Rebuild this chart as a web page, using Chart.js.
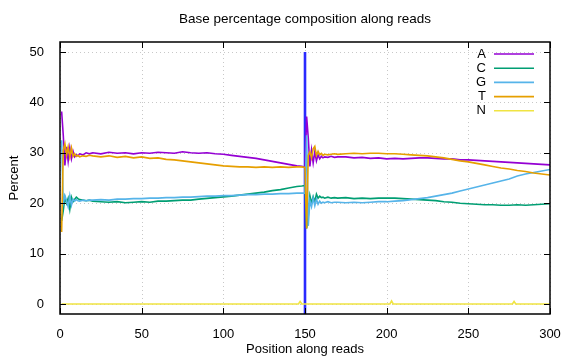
<!DOCTYPE html>
<html>
<head>
<meta charset="utf-8">
<script src="https://cdn.jsdelivr.net/npm/chart.js@4/dist/chart.umd.min.js"></script>
<style>
  html, body { margin: 0; padding: 0; background: #fff; }
  #wrap { width: 576px; height: 360px; }
</style>
</head>
<body>
<div id="wrap"><canvas id="chart" width="576" height="360"></canvas></div>
<script>
// Positions along reads (read 1: 1-150, read 2: 151-300)
const positions = [
    1, 2, 3, 4, 5, 6, 7, 8, 9, 10, 11, 12, 14, 16, 18,
    20, 25, 30, 35, 40, 45, 50, 55, 60, 65, 70, 75, 80, 85, 90, 95, 100,
    105, 110, 115, 120, 125, 130, 135, 140, 145, 148, 150,
    151, 152, 153, 154, 155, 156, 157, 158, 159, 160, 161, 162, 164, 166, 168,
    170, 175, 180, 185, 190, 195, 200, 205, 210, 215, 220, 225, 230, 235,
    240, 245, 250, 255, 260, 265, 270, 275, 280, 285, 290, 295, 300
];

const baseA = [
    38.2, 33.5, 27.5, 31.2, 28.3, 31.0, 28.8, 30.3, 29.2, 29.6, 29.4, 29.8, 29.6, 30.0, 29.8,
    30.0, 29.8, 30.1, 29.9, 30.0, 29.8, 30.0, 29.9, 30.1, 30.0, 29.9, 30.2, 30.0, 29.9, 30.0, 29.8, 29.7,
    29.5, 29.3, 29.1, 28.9, 28.6, 28.3, 28.0, 27.7, 27.4, 27.3, 27.2,
    37.2, 33.0, 27.3, 30.5, 28.0, 30.2, 28.4, 29.6, 28.8, 29.3, 29.0, 29.2, 29.1, 29.3, 29.1,
    29.2, 29.2, 29.0, 29.1, 28.9, 29.0, 28.8, 28.9, 28.8, 28.9, 29.0, 29.0, 28.9, 28.8,
    28.8, 28.6, 28.6, 28.5, 28.4, 28.3, 28.2, 28.1, 28.0, 27.9, 27.8, 27.7, 27.6
];

const baseC = [
    16.5, 18.5, 21.2, 20.0, 21.0, 18.8, 21.2, 20.3, 20.8, 21.2, 20.9, 20.7, 20.6, 20.5, 20.6,
    20.4, 20.3, 20.2, 20.3, 20.1, 20.2, 20.3, 20.2, 20.4, 20.4, 20.5, 20.6, 20.6, 20.8, 20.95, 21.1, 21.25,
    21.4, 21.6, 21.8, 22.0, 22.2, 22.5, 22.7, 23.0, 23.3, 23.4, 23.5,
    15.0, 17.5, 21.5, 20.0, 21.3, 20.3, 21.8, 21.0, 21.4, 21.1, 21.2, 21.0, 21.2, 21.0, 21.1,
    21.0, 21.1, 20.9, 21.0, 20.9, 21.0, 21.0, 21.0, 20.9, 20.8, 20.7, 20.6, 20.5, 20.3,
    20.2, 20.0, 19.9, 19.8, 19.7, 19.7, 19.6, 19.6, 19.7, 19.6, 19.7, 19.8, 19.9
];

const baseG = [
    32.5, 20.0, 21.5, 20.5, 19.3, 21.5, 19.6, 20.8, 20.4, 20.7, 20.5, 20.4, 20.6, 20.5, 20.6,
    20.6, 20.7, 20.6, 20.8, 20.8, 20.9, 20.9, 21.0, 21.0, 21.1, 21.1, 21.2, 21.2, 21.3, 21.4, 21.4, 21.5,
    21.5, 21.6, 21.7, 21.7, 21.8, 21.8, 21.9, 21.9, 22.0, 22.0, 22.0,
    33.5, 15.5, 20.5, 19.3, 21.0, 19.5, 20.8, 19.8, 20.4, 20.0, 20.2, 20.1, 20.3, 20.1, 20.2,
    20.2, 20.1, 20.2, 20.1, 20.2, 20.3, 20.3, 20.4, 20.5, 20.7, 20.9, 21.1, 21.4, 21.7,
    22.0, 22.4, 22.8, 23.2, 23.6, 24.0, 24.4, 24.8, 25.4, 25.8, 26.1, 26.4, 26.7
];

const baseT = [
    14.3, 30.5, 31.8, 29.5, 31.2, 29.2, 31.0, 29.3, 29.8, 29.3, 29.5, 29.2, 29.4, 29.3, 29.5,
    29.4, 29.2, 29.4, 29.1, 29.3, 29.0, 29.2, 28.9, 29.0, 28.7, 28.6, 28.4, 28.2, 28.0, 27.8, 27.6, 27.4,
    27.3, 27.2, 27.2, 27.1, 27.2, 27.1, 27.2, 27.1, 27.2, 27.2, 27.1,
    15.0, 29.5, 30.2, 29.0, 30.8, 31.3, 29.5, 30.3, 29.6, 29.9, 29.5, 29.7, 29.6, 29.7, 29.8,
    29.7, 29.8, 29.9, 29.8, 29.9, 29.9, 29.8, 29.8, 29.7, 29.6, 29.5, 29.4, 29.2, 29.0,
    28.7, 28.4, 28.2, 27.9, 27.6, 27.3, 27.0, 26.8, 26.5, 26.3, 26.0, 25.8, 25.6
];

// N is zero apart from a few small blips
const nPositions = [1, 146, 147, 148, 202, 203, 204, 277, 278, 279, 300];
const baseN = [0, 0, 0.5, 0, 0, 0.6, 0, 0, 0.5, 0, 0];

// read boundary marker
const boundaryX = [150, 150];
const boundaryY = [-2, 50];

const xTicks = [0, 50, 100, 150, 200, 250, 300];
const yTicks = [0, 10, 20, 30, 40, 50];

const FONT = '"Liberation Sans", Arial, sans-serif';

function pts(xs, ys) {
    return xs.map((x, i) => ({ x: x, y: ys[i] }));
}

function series(label, xs, ys, color, order) {
    return {
        label: label,
        data: pts(xs, ys),
        borderColor: color,
        backgroundColor: color,
        borderWidth: 1.6,
        pointRadius: 0,
        tension: 0,
        order: order
    };
}

const datasets = [
    series('A', positions, baseA, '#9400d3', 5),
    series('C', positions, baseC, '#009e73', 4),
    series('G', positions, baseG, '#56b4e9', 3),
    series('T', positions, baseT, '#e69f00', 2),
    series('N', nPositions, baseN, '#f0e442', 1),
    Object.assign(series('', boundaryX, boundaryY, '#2a2aff', 6), { borderWidth: 2.6 })
];

// gnuplot look: dotted grid, framed box, inward mirrored ticks, key with text left of sample
const gnuplotFrame = {
    id: 'gnuplotFrame',
    beforeDatasetsDraw(chart) {
        const { ctx, chartArea: a, scales: { x, y } } = chart;
        ctx.save();
        ctx.strokeStyle = '#c8c8c8';
        ctx.lineWidth = 1;
        ctx.setLineDash([1, 3]);
        xTicks.forEach(v => {
            const px = Math.round(x.getPixelForValue(v)) + 0.5;
            ctx.beginPath(); ctx.moveTo(px, a.top); ctx.lineTo(px, a.bottom); ctx.stroke();
        });
        yTicks.forEach(v => {
            const py = Math.round(y.getPixelForValue(v)) + 0.5;
            ctx.beginPath(); ctx.moveTo(a.left, py); ctx.lineTo(a.right, py); ctx.stroke();
        });
        ctx.restore();
    },
    afterDatasetsDraw(chart) {
        const { ctx, chartArea: a, scales: { x, y } } = chart;
        ctx.save();
        ctx.strokeStyle = '#000';
        ctx.lineWidth = 1;
        const t = 6;
        xTicks.forEach(v => {
            const px = Math.round(x.getPixelForValue(v)) + 0.5;
            ctx.beginPath();
            ctx.moveTo(px, a.bottom); ctx.lineTo(px, a.bottom - t);
            ctx.moveTo(px, a.top); ctx.lineTo(px, a.top + t);
            ctx.stroke();
        });
        yTicks.forEach(v => {
            const py = Math.round(y.getPixelForValue(v)) + 0.5;
            ctx.beginPath();
            ctx.moveTo(a.left, py); ctx.lineTo(a.left + t, py);
            ctx.moveTo(a.right, py); ctx.lineTo(a.right - t, py);
            ctx.stroke();
        });
        ctx.lineWidth = 1.5;
        ctx.strokeRect(a.left, a.top, a.right - a.left, a.bottom - a.top);

        // key
        ctx.font = '13px ' + FONT;
        ctx.textAlign = 'right';
        ctx.textBaseline = 'middle';
        chart.data.datasets.forEach((ds, i) => {
            if (!ds.label) return;
            const ly = a.top + 12 + i * 14.2;
            ctx.fillStyle = '#000';
            ctx.fillText(ds.label, 486, ly);
            ctx.strokeStyle = ds.borderColor;
            ctx.lineWidth = 1.6;
            ctx.beginPath(); ctx.moveTo(494, ly); ctx.lineTo(534, ly); ctx.stroke();
        });

        // titles
        ctx.fillStyle = '#000';
        ctx.textAlign = 'center';
        ctx.font = '13.5px ' + FONT;
        ctx.fillText('Base percentage composition along reads', (a.left + a.right) / 2, 19);
        ctx.font = '13px ' + FONT;
        ctx.fillText('Position along reads', (a.left + a.right) / 2, 349);
        ctx.translate(14, (a.top + a.bottom) / 2);
        ctx.rotate(-Math.PI / 2);
        ctx.fillText('Percent', 0, 0);
        ctx.restore();
    }
};

new Chart(document.getElementById('chart'), {
    type: 'line',
    data: { datasets: datasets },
    options: {
        responsive: false,
        animation: false,
        devicePixelRatio: 1,
        layout: { padding: { top: 42, right: 26, left: 0, bottom: 0 } },
        plugins: {
            legend: { display: false },
            title: { display: false },
            tooltip: { enabled: false }
        },
        scales: {
            x: {
                type: 'linear',
                min: 0,
                max: 300,
                afterBuildTicks: s => { s.ticks = xTicks.map(v => ({ value: v })); },
                afterFit: s => { s.height = 46; },
                grid: { display: false },
                border: { display: false },
                ticks: { color: '#000', font: { family: FONT, size: 13 }, padding: 5, maxRotation: 0 }
            },
            y: {
                min: -2,
                max: 52,
                afterBuildTicks: s => { s.ticks = yTicks.map(v => ({ value: v })); },
                afterFit: s => { s.width = 60; },
                grid: { display: false },
                border: { display: false },
                ticks: { color: '#000', font: { family: FONT, size: 13 }, padding: 8 }
            }
        }
    },
    plugins: [gnuplotFrame]
});
</script>
</body>
</html>
